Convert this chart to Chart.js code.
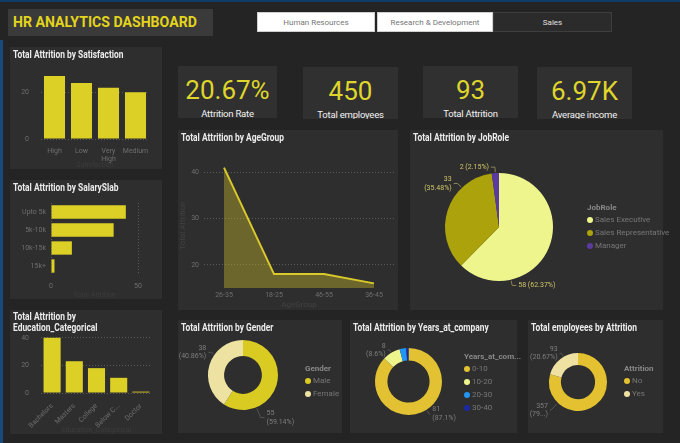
<!DOCTYPE html>
<html><head><meta charset="utf-8">
<script src="https://cdn.jsdelivr.net/npm/chart.js@4.4.1/dist/chart.umd.min.js"></script>
<style>
html,body{margin:0;padding:0;}
body{width:680px;height:443px;background:#242424;position:relative;overflow:hidden;font-family:Roboto,"DejaVu Sans",sans-serif;}
.topline{position:absolute;left:0;top:0;width:680px;height:2px;background:#0f3d68;}
.leftline{position:absolute;left:0;top:40px;width:3px;height:403px;background:#174a7c;}
.titlebox{position:absolute;left:8px;top:9px;width:205px;height:27px;background:#3a3a3a;}
.titlebox span{position:absolute;left:5px;top:3px;font-size:15.5px;line-height:20px;font-weight:700;color:#e3d41d;white-space:nowrap;transform:scaleX(.91);transform-origin:0 0;}
.tab{position:absolute;top:12px;height:20px;line-height:19px;text-align:center;font-size:8px;box-sizing:border-box;}
.panel{position:absolute;background:#2e2e2e;overflow:hidden;}
.panel canvas{position:absolute;left:0;top:0;}
.pt{position:absolute;left:3px;top:3px;color:#ececec;font-weight:700;font-size:10.5px;line-height:10.5px;white-space:nowrap;transform:scaleX(.8);transform-origin:0 0;z-index:2;}
.kpi{position:absolute;background:#303030;overflow:hidden;text-align:center;}
.kpi .n{position:absolute;left:0;right:0;top:9px;font-size:26px;line-height:30px;color:#dfd52c;}
.kpi .l{position:absolute;left:0;right:0;top:42px;font-size:9.5px;line-height:11px;color:#f2f2f2;letter-spacing:-0.2px;}
.lg{position:absolute;font-size:8px;color:#777;white-space:nowrap;}
.lg .t{font-weight:700;color:#888;line-height:10px;height:10px;}
.lg .r{line-height:13px;height:13px;}
.lg .d{display:inline-block;width:6px;height:6px;border-radius:50%;margin-right:2px;vertical-align:-0.5px;}
</style></head>
<body>
<div class="topline"></div><div class="leftline"></div>
<div class="titlebox"><span>HR ANALYTICS DASHBOARD</span></div>
<div id="tabs"></div>
<div id="kpis"></div>

<div class="panel" style="left:10px;top:47px;width:152px;height:122px"><div class="pt">Total Attrition by Satisfaction</div><canvas id="cSat" width="152" height="122"></canvas></div>
<div class="panel" style="left:10px;top:180px;width:152px;height:119px"><div class="pt">Total Attrition by SalarySlab</div><canvas id="cSal" width="152" height="119"></canvas></div>
<div class="panel" style="left:10px;top:310px;width:152px;height:124px"><div class="pt" style="top:2px">Total Attrition by<br>Education_Categorical</div><canvas id="cEdu" width="152" height="124"></canvas></div>
<div class="panel" style="left:178px;top:130px;width:220px;height:180px"><div class="pt">Total Attrition by AgeGroup</div><canvas id="cAge" width="220" height="180"></canvas></div>
<div class="panel" style="left:410px;top:130px;width:253px;height:180px"><div class="pt">Total Attrition by JobRole</div><canvas id="cJob" width="253" height="180"></canvas></div>
<div class="panel" style="left:178px;top:320px;width:164px;height:113px"><div class="pt">Total Attrition by Gender</div><canvas id="cGen" width="164" height="113"></canvas></div>
<div class="panel" style="left:350px;top:320px;width:167px;height:113px"><div class="pt">Total Attrition by Years_at_company</div><canvas id="cYrs" width="167" height="113"></canvas></div>
<div class="panel" style="left:528px;top:320px;width:135px;height:113px"><div class="pt">Total employees by Attrition</div><canvas id="cEmp" width="135" height="113"></canvas></div>
<div id="legends"></div>

<script>
// ---------------- data ----------------
const tabLabels = ['Human Resources', 'Research & Development', 'Sales'];
const kpiValues = ['20.67%', '450', '93', '6.97K'];
const kpiLabels = ['Attrition Rate', 'Total employees', 'Total Attrition', 'Average income'];

const satisfactionCats = ['High', 'Low', 'Very High', 'Medium'];
const satisfactionVals = [27, 24, 22, 20];
const satisfactionTicks = [0, 20];

const salaryCats = ['Upto 5k', '5k-10k', '10k-15k', '15k+'];
const salaryVals = [43, 36, 12, 2];
const salaryTicks = [0, 50];

const educationCats = ['Bachelors', 'Masters', 'College', 'Below College', 'Doctor'];
const educationVals = [40, 23, 18, 11, 1];
const educationTicks = [0, 20, 40];

const ageCats = ['26-35', '18-25', '46-55', '36-45'];
const ageVals = [41, 18, 18, 16];
const ageTicks = [20, 30, 40];

const jobRoleCats = ['Sales Executive', 'Sales Representative', 'Manager'];
const jobRoleVals = [58, 33, 2];

const genderCats = ['Male', 'Female'];
const genderVals = [55, 38];

const yearsCats = ['0-10', '10-20', '20-30', '30-40'];
const yearsVals = [81, 8, 3, 1];

const attritionCats = ['No', 'Yes'];
const employeeVals = [357, 93];

// ---------------- styles ----------------
const YEL = '#dcd026';
const DIM = '#6f6f6f';
const AXT = '#424242';
const GRID = '#5a5a5a';
const TF = {family: 'Roboto', size: 7};
const jobColors = ['#eef58c', '#aca20c', '#5b3b9f'];
const genderColors = ['#d9cb22', '#eee2a3'];
const yearsColors = ['#e2c232', '#eef58c', '#2196f3', '#1a2aa3'];
const empColors = ['#e3c130', '#efe1a2'];

Chart.defaults.font.family = 'Roboto';
Chart.defaults.color = DIM;
Chart.defaults.animation = false;
Chart.defaults.responsive = false;
Chart.defaults.plugins.legend.display = false;
Chart.defaults.plugins.tooltip.enabled = false;

// tabs
const tabBoxes = [[257, 118, '#ffffff', '#777', '#cfcfcf'], [377, 116, '#ffffff', '#777', '#cfcfcf'], [493, 119, '#2b2b2b', '#e0e0e0', '#3e3e3e']];
document.getElementById('tabs').innerHTML = tabLabels.map((t, i) => {
  const b = tabBoxes[i];
  return `<div class="tab" style="left:${b[0]}px;width:${b[1]}px;background:${b[2]};color:${b[3]};border:1px solid ${b[4]}">${t.replace('&','&amp;')}</div>`;
}).join('');

// kpis
const kpiBoxes = [[178, 66, 99, 52], [303, 67, 95, 52], [423, 66, 95, 52], [537, 67, 95, 52]];
document.getElementById('kpis').innerHTML = kpiValues.map((v, i) => {
  const b = kpiBoxes[i];
  return `<div class="kpi" style="left:${b[0]}px;top:${b[1]}px;width:${b[2]}px;height:${b[3]}px"><div class="n">${v}</div><div class="l">${kpiLabels[i]}</div></div>`;
}).join('');

// legends
function legend(x, y, title, cats, colors) {
  return `<div class="lg" style="left:${x}px;top:${y}px"><div class="t">${title}</div>` +
    cats.map((c, i) => `<div class="r"><span class="d" style="background:${colors[i]}"></span>${c}</div>`).join('') + '</div>';
}
document.getElementById('legends').innerHTML =
  legend(587, 203, 'JobRole', jobRoleCats, jobColors) +
  legend(305, 364, 'Gender', genderCats, genderColors) +
  legend(464, 352, 'Years_at_com...', yearsCats, yearsColors) +
  legend(624, 364, 'Attrition', attritionCats, empColors);

// slice label plugin
const sliceLabels = {
  id: 'sliceLabels',
  afterDatasetsDraw(chart, args, opts) {
    if (!opts || !opts.items) return;
    const ctx = chart.ctx;
    const meta = chart.getDatasetMeta(0);
    const data = chart.data.datasets[0].data;
    const total = data.reduce((a, b) => a + b, 0);
    ctx.save();
    ctx.font = opts.font;
    ctx.lineWidth = 1;
    ctx.strokeStyle = opts.lineColor;
    ctx.fillStyle = opts.color;
    ctx.textBaseline = 'middle';
    opts.items.forEach(it => {
      const arc = meta.data[it.index];
      const p = arc.getProps(['x', 'y', 'startAngle', 'endAngle', 'outerRadius'], true);
      const a = p.startAngle + (p.endAngle - p.startAngle) * it.at;
      const c = Math.cos(a), s = Math.sin(a);
      const side = c < 0 ? -1 : 1;
      const p1 = {x: p.x + c * (p.outerRadius + 1), y: p.y + s * (p.outerRadius + 1)};
      const p2 = {x: p.x + c * (p.outerRadius + it.reach), y: p.y + s * (p.outerRadius + it.reach)};
      const p3 = {x: p2.x + side * it.tail, y: p2.y};
      ctx.beginPath(); ctx.moveTo(p1.x, p1.y); ctx.lineTo(p2.x, p2.y); ctx.lineTo(p3.x, p3.y); ctx.stroke();
      const v = data[it.index];
      const pct = (v / total * 100).toFixed(2).replace(/\.?0+$/, '') + '%';
      let pctStr = '(' + pct + ')';
      if (it.maxW && ctx.measureText(pctStr).width > it.maxW) {
        let q = pct;
        while (q.length > 1 && ctx.measureText('(' + q + '...)').width > it.maxW) q = q.slice(0, -1);
        pctStr = '(' + q.replace(/\.$/, '') + '...)';
      }
      ctx.textAlign = side < 0 ? 'right' : 'left';
      const tx = p3.x + side * 2;
      if (it.split) {
        ctx.fillText(String(v), tx, p3.y - 4.3);
        ctx.fillText(pctStr, tx, p3.y + 4.3);
      } else {
        ctx.fillText(v + ' ' + pctStr, tx, p3.y);
      }
    });
    ctx.restore();
  }
};

const fixedTicks = arr => (s => { s.ticks = arr.map(v => ({value: v})); });

// Satisfaction
new Chart(document.getElementById('cSat'), {
  type: 'bar',
  data: {labels: satisfactionCats, datasets: [{data: satisfactionVals, backgroundColor: YEL, barPercentage: 0.78, categoryPercentage: 1}]},
  options: {
    layout: {padding: {top: 22, right: 13, left: 0, bottom: 0}},
    scales: {
      x: {grid: {display: false, drawTicks: false}, border: {display: false},
          ticks: {font: TF, color: DIM, padding: 8, maxRotation: 0, autoSkip: false,
                  callback(v) { const s = this.getLabelForValue(v); return s.includes(' ') ? s.split(' ') : s; }},
          title: {display: true, text: 'Satisfaction', color: '#3c3c3c', font: TF, padding: 0},
          afterFit(s) { s.height = 30; }},
      y: {min: 0, max: 30, afterBuildTicks: fixedTicks(satisfactionTicks),
          grid: {color: GRID, drawTicks: false}, border: {display: false, dash: [1, 2]},
          ticks: {font: TF, color: DIM, padding: 12},
          afterFit(s) { s.width = 31; }}
    }
  }
});

// Salary slab
new Chart(document.getElementById('cSal'), {
  type: 'bar',
  data: {labels: salaryCats, datasets: [{data: salaryVals, backgroundColor: YEL, barPercentage: 0.74, categoryPercentage: 1}]},
  options: {
    indexAxis: 'y',
    layout: {padding: {top: 23, right: 24, left: 0, bottom: 0}},
    scales: {
      x: {min: 0, max: 50, afterBuildTicks: fixedTicks(salaryTicks),
          grid: {color: GRID, drawTicks: false}, border: {display: false, dash: [1, 2]},
          ticks: {font: TF, color: DIM, padding: 7},
          title: {display: true, text: 'Total Attrition', color: '#3c3c3c', font: TF, padding: 0},
          afterFit(s) { s.height = 24; }},
      y: {grid: {display: false, drawTicks: false}, border: {display: false},
          ticks: {font: TF, color: DIM, padding: 5},
          afterFit(s) { s.width = 41; }}
    }
  }
});

// Education
new Chart(document.getElementById('cEdu'), {
  type: 'bar',
  data: {labels: educationCats, datasets: [{data: educationVals, backgroundColor: YEL, barPercentage: 0.77, categoryPercentage: 1}]},
  options: {
    layout: {padding: {top: 25, right: 10, left: 0, bottom: 0}},
    scales: {
      x: {grid: {display: false}, border: {display: false},
          ticks: {font: TF, color: DIM, padding: 1, minRotation: 45, maxRotation: 45, autoSkip: false,
                  callback(v) { const s = this.getLabelForValue(v); return s.length > 9 ? s.slice(0, 7) + '...' : s; }},
          title: {display: true, text: 'Education_Categorical', color: '#3c3c3c', font: TF, padding: 0},
          afterFit(s) { s.height = 41; }},
      y: {min: 0, max: 42, afterBuildTicks: fixedTicks(educationTicks),
          grid: {color: GRID, drawTicks: false}, border: {display: false, dash: [1, 2]},
          ticks: {font: TF, color: DIM, padding: 12},
          afterFit(s) { s.width = 31; }}
    }
  }
});

// Age group
new Chart(document.getElementById('cAge'), {
  type: 'line',
  data: {datasets: [{data: ageVals.map((v, i) => ({x: i, y: v})), borderColor: '#dac92b', borderWidth: 2,
         backgroundColor: 'rgba(212,195,42,0.38)', fill: 'start', pointRadius: 0, tension: 0}]},
  options: {
    layout: {padding: {top: 33, right: 4, left: 0, bottom: 0}},
    scales: {
      x: {type: 'linear', min: -0.4, max: 3.4, afterBuildTicks: fixedTicks(ageCats.map((c, i) => i)),
          grid: {display: false, drawTicks: false}, border: {display: false},
          ticks: {font: TF, color: DIM, padding: 3, callback: v => ageCats[v]},
          title: {display: true, text: 'AgeGroup', color: AXT, font: {family: 'Roboto', size: 8}, padding: 0},
          afterFit(s) { s.height = 22; }},
      y: {min: 15, max: 42, afterBuildTicks: fixedTicks(ageTicks),
          grid: {color: GRID, drawTicks: false}, border: {display: false, dash: [1, 2]},
          ticks: {font: TF, color: DIM, padding: 5},
          title: {display: true, text: 'Total Attrition', color: AXT, font: {family: 'Roboto', size: 8}, padding: 0},
          afterFit(s) { s.width = 26; }}
    }
  }
});

// Job role pie
new Chart(document.getElementById('cJob'), {
  type: 'pie',
  data: {labels: jobRoleCats, datasets: [{data: jobRoleVals, backgroundColor: jobColors, borderWidth: 0}]},
  options: {
    layout: {padding: {left: 35, top: 43, right: 110, bottom: 29}},
    plugins: {sliceLabels: {font: '7px Roboto', color: '#cfc56a', lineColor: '#8a8456', items: [
      {index: 0, at: 0.745, reach: 6, tail: 4},
      {index: 1, at: 0.72, reach: 6, tail: 4, split: true},
      {index: 2, at: 0.5, reach: 6, tail: 4}]}}
  },
  plugins: [sliceLabels]
});

// Gender donut
new Chart(document.getElementById('cGen'), {
  type: 'doughnut',
  data: {labels: genderCats, datasets: [{data: genderVals, backgroundColor: genderColors, borderWidth: 0}]},
  options: {
    cutout: '54%',
    layout: {padding: {left: 30, top: 20, right: 64, bottom: 23}},
    plugins: {sliceLabels: {font: '7px Roboto', color: '#7f7f7f', lineColor: '#555', items: [
      {index: 1, at: 0.63, reach: 4, tail: 3, split: true},
      {index: 0, at: 0.74, reach: 11, tail: 4, split: true}]}}
  },
  plugins: [sliceLabels]
});

// Years donut
new Chart(document.getElementById('cYrs'), {
  type: 'doughnut',
  data: {labels: yearsCats, datasets: [{data: yearsVals, backgroundColor: yearsColors, borderWidth: 0}]},
  options: {
    cutout: '63%',
    layout: {padding: {left: 25, top: 28, right: 75, bottom: 18}},
    plugins: {sliceLabels: {font: '7px Roboto', color: '#7f7f7f', lineColor: '#555', items: [
      {index: 1, at: 0.5, reach: 3, tail: 2, split: true},
      {index: 0, at: 0.47, reach: 5, tail: 1, split: true}]}}
  },
  plugins: [sliceLabels]
});

// Employees by attrition donut
new Chart(document.getElementById('cEmp'), {
  type: 'doughnut',
  data: {labels: attritionCats, datasets: [{data: employeeVals, backgroundColor: empColors, borderWidth: 0}]},
  options: {
    cutout: '59%',
    layout: {padding: {left: 21, top: 33, right: 56, bottom: 22}},
    plugins: {sliceLabels: {font: '7px Roboto', color: '#7f7f7f', lineColor: '#555', items: [
      {index: 1, at: 0.6, reach: 4, tail: 2, split: true},
      {index: 0, at: 0.784, reach: 10, tail: 1, split: true, maxW: 21}]}}
  },
  plugins: [sliceLabels]
});
</script>
</body></html>
